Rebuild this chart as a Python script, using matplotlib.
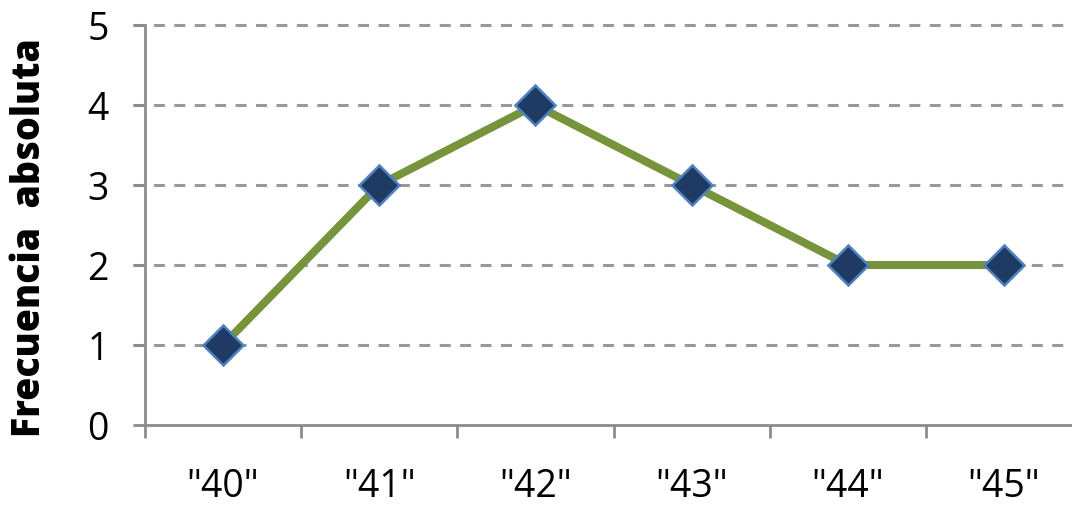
import matplotlib
matplotlib.use("Agg")
import matplotlib.pyplot as plt
import numpy as np

# chart data
categories = ['"40"', '"41"', '"42"', '"43"', '"44"', '"45"']
frecuencia = [1, 3, 4, 3, 2, 2]
y_ticks = [0, 1, 2, 3, 4, 5]

plt.rcParams["font.family"] = ["Open Sans", "DejaVu Sans"]
plt.rcParams["lines.scale_dashes"] = False

fig = plt.figure(figsize=(10.72, 5.18), dpi=100)
# plot area runs a bit past the right edge, as in the original
ax = fig.add_axes([145 / 1072, 93 / 518, 937 / 1072, 400 / 518])

x = np.arange(len(categories))
ax.plot(
    x, frecuencia, color="#77933C", linewidth=5.8, zorder=3,
    marker="D", markersize=20, markerfacecolor="#1F3B64",
    markeredgecolor="#4F81BD", markeredgewidth=1.8,
)

ax.set_xlim(-0.5, len(categories) - 0.5)
ax.set_ylim(0, 5)

# tick marks between categories, labels at the centres
ax.set_xticks(np.arange(-0.5, len(categories), 1.0))
ax.set_xticklabels([])
ax.set_xticks(x, minor=True)
ax.set_xticklabels(categories, minor=True, fontsize=27)
ax.tick_params(axis="x", which="major", length=9, width=2, color="#8C8C8C", direction="out")
ax.tick_params(axis="x", which="minor", length=0, pad=31)

ax.set_yticks(y_ticks)
ax.set_yticklabels([str(v) for v in y_ticks], fontsize=27)
ax.tick_params(axis="y", length=9, width=2, color="#8C8C8C", pad=17)

# dashed gridlines start at the tick ends, left of the axis
for v in y_ticks[1:]:
    ax.plot([-0.58, len(categories) - 0.5], [v, v], color="#999999", linewidth=2.2,
            linestyle=(0, (7.9, 6.8)), zorder=1, clip_on=False)

for s in ["top", "right"]:
    ax.spines[s].set_visible(False)
for s in ["left", "bottom"]:
    ax.spines[s].set_color("#8C8C8C")
    ax.spines[s].set_linewidth(2)

fig.text(30 / 1072, 1 - 238 / 518, "Frecuencia  absoluta", rotation=90,
         fontsize=27, fontweight="heavy", ha="center", va="center")

fig.savefig("out.png", dpi=100)
